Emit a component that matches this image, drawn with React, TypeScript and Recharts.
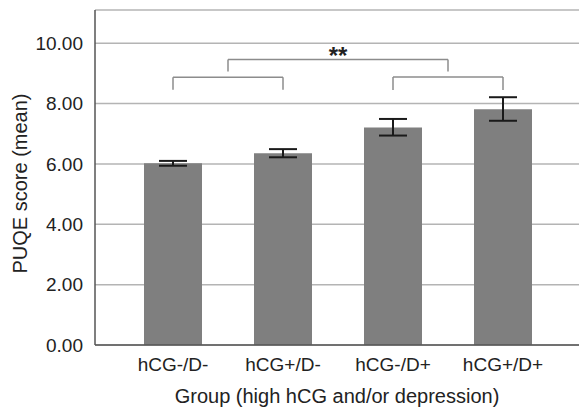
import React from 'react';
import { BarChart, Bar, XAxis, YAxis, CartesianGrid, ErrorBar, ReferenceLine, ReferenceDot } from 'recharts';

const groups = ['hCG-/D-', 'hCG+/D-', 'hCG-/D+', 'hCG+/D+'];
const means = [6.02, 6.35, 7.21, 7.81];
const errLow = [0.08, 0.13, 0.27, 0.38];
const errHigh = [0.08, 0.14, 0.28, 0.4];
const yTicks = [0, 2, 4, 6, 8, 10];

// significance brackets, x given as group index (0.5 = halfway between two groups)
const bracketFrom = [0, 2, 0.5];
const bracketTo = [1, 3, 2.5];
const bracketTop = [8.87, 8.88, 9.46];
const bracketBottom = [8.46, 8.45, 9.06];
const starLabel = '**';
const starX = 1.5;
const starY = 9.46;

const data = groups.map((g, i) => ({ group: g, mean: means[i], err: [errLow[i], errHigh[i]] }));

const pad = { left: 23, right: 21 };
// index axis: centres of first/last band sit half a band (55px) inside the padding
const idxPad = { left: 78, right: 76 };
const textColor = '#222';
const bracketColor = '#8c8c8c';

const renderYLabel = (props: any) => {
  const { x, y, height } = props.viewBox;
  const cx = x + 20;
  const cy = y + height / 2 + 6;
  return (
    <text x={cx} y={cy} transform={`rotate(-90 ${cx} ${cy})`} textAnchor="middle" dominantBaseline="central" fontSize={20} fill={textColor}>
      PUQE score (mean)
    </text>
  );
};

const renderStars = (props: any) => {
  const { x, y, width } = props.viewBox;
  return (
    <text x={x + width / 2} y={y + 6} textAnchor="middle" fontSize={24} fontWeight="bold" fill={textColor}>
      {starLabel}
    </text>
  );
};

const App: React.FC = () => {
  return (
    <div style={{ position: 'absolute', left: 0, top: 0, width: 579, height: 409, background: '#fff', fontFamily: '"Liberation Sans", Arial, sans-serif' }}>
      <BarChart width={579} height={409} data={data} margin={{ top: 10, right: 0, bottom: 0, left: 0 }}>
        <CartesianGrid vertical={false} stroke="#b4b4b4" strokeWidth={1.5} />
        <XAxis
          dataKey="group"
          height={64}
          padding={pad}
          axisLine={{ stroke: '#555', strokeWidth: 1.5 }}
          tickLine={false}
          tickMargin={7}
          tick={{ fontSize: 19, fill: textColor }}
          label={{ value: 'Group (high hCG and/or depression)', position: 'insideBottom', offset: 6, fontSize: 20, fill: textColor }}
        />
        <XAxis xAxisId="num" type="number" domain={[0, 3]} allowDataOverflow padding={idxPad} hide />
        <YAxis
          width={95}
          domain={[0, 11.1]}
          ticks={yTicks}
          tickFormatter={(v: number) => v.toFixed(2)}
          axisLine={{ stroke: '#555', strokeWidth: 1.5 }}
          tickLine={false}
          tickMargin={6}
          tick={{ fontSize: 19, fill: textColor }}
          label={{ content: renderYLabel }}
        />
        <Bar dataKey="mean" fill="#7f7f7f" barSize={58} isAnimationActive={false}>
          <ErrorBar dataKey="err" width={14} stroke="#1a1a1a" strokeWidth={2} direction="y" />
        </Bar>
        {bracketFrom.map((from, i) => (
          <React.Fragment key={i}>
            <ReferenceLine xAxisId="num" ifOverflow="visible" stroke={bracketColor} strokeWidth={1.5}
              segment={[{ x: from, y: bracketBottom[i] }, { x: from, y: bracketTop[i] }]} />
            <ReferenceLine xAxisId="num" ifOverflow="visible" stroke={bracketColor} strokeWidth={1.5}
              segment={[{ x: from, y: bracketTop[i] }, { x: bracketTo[i], y: bracketTop[i] }]} />
            <ReferenceLine xAxisId="num" ifOverflow="visible" stroke={bracketColor} strokeWidth={1.5}
              segment={[{ x: bracketTo[i], y: bracketTop[i] }, { x: bracketTo[i], y: bracketBottom[i] }]} />
          </React.Fragment>
        ))}
        <ReferenceDot xAxisId="num" x={starX} y={starY} r={1} fill="none" stroke="none" ifOverflow="visible" label={renderStars} />
      </BarChart>
    </div>
  );
};

export default App;
